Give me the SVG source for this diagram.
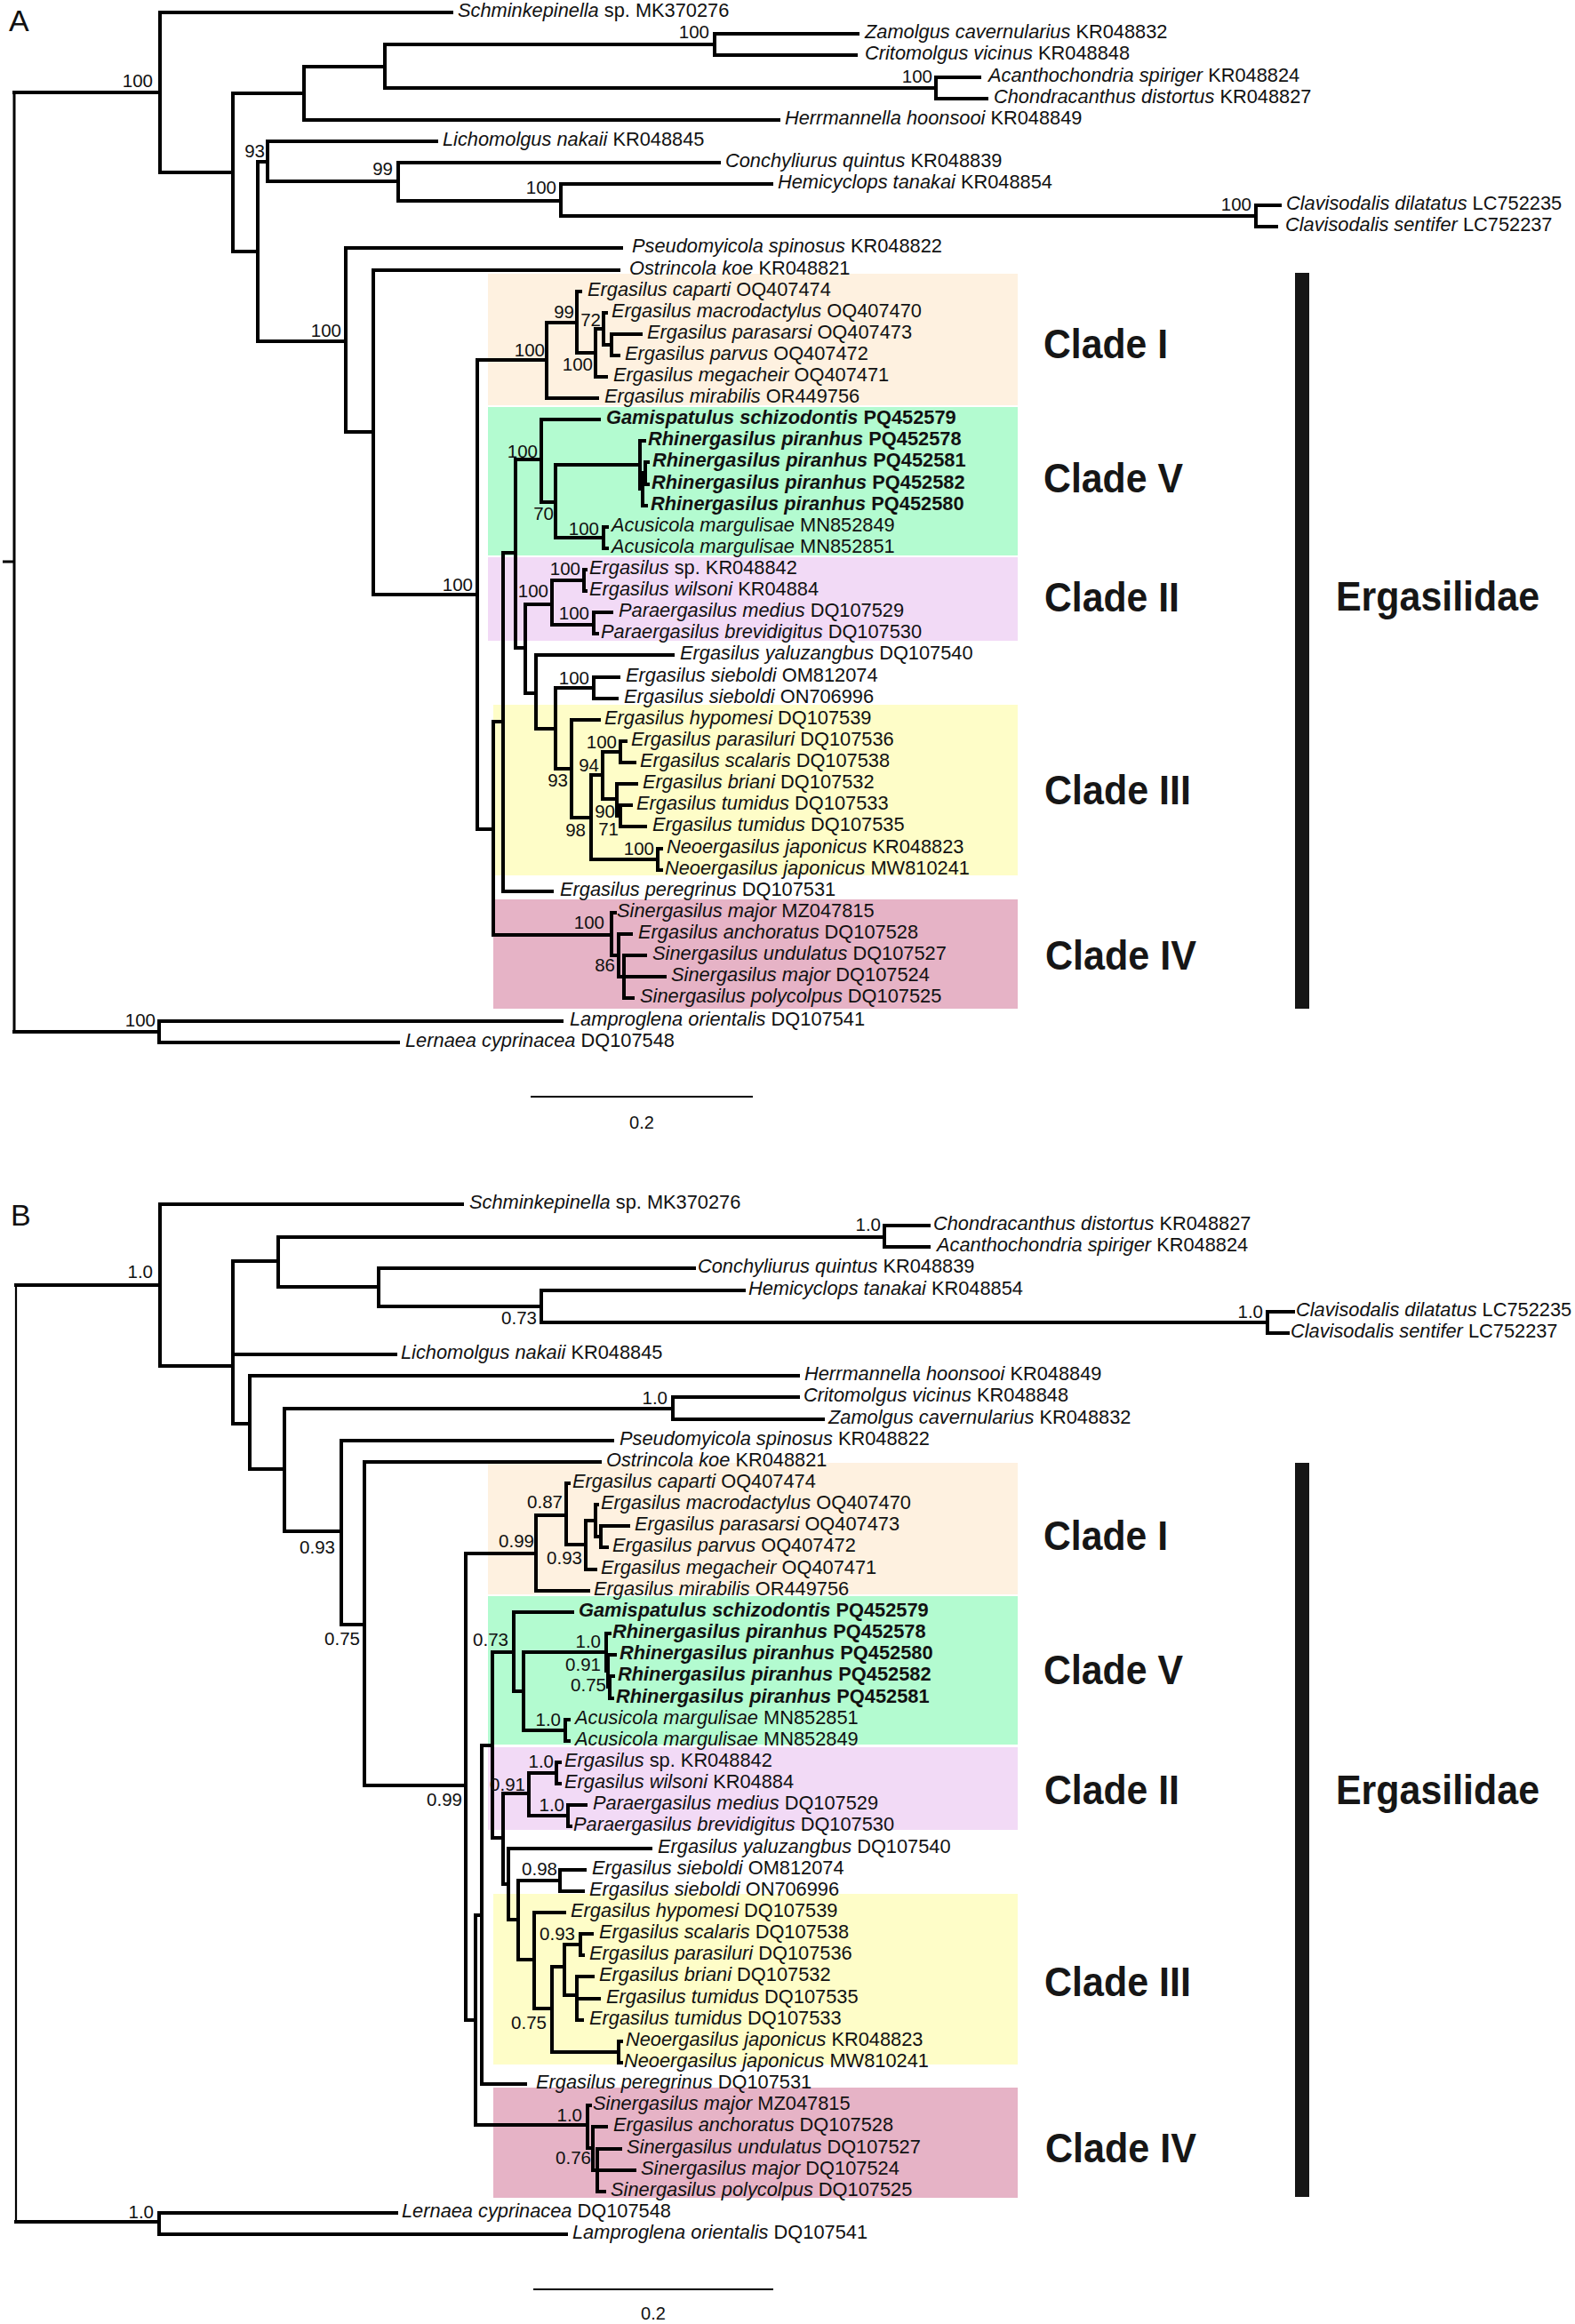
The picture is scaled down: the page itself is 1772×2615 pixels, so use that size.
<svg xmlns="http://www.w3.org/2000/svg" width="1772" height="2615" viewBox="0 0 1772 2615">
<style>
.b{fill:none;stroke:#000;stroke-width:4;stroke-linecap:square}
.r{fill:none;stroke:#000;stroke-width:3}
.r2{fill:none;stroke:#000;stroke-width:2.2}
.t{font-family:"Liberation Sans",Arial,sans-serif;font-size:21.8px;fill:#111}
.i{font-style:italic}
.bd{font-weight:bold}
.s{font-family:"Liberation Sans",Arial,sans-serif;font-size:20.5px;fill:#111;text-anchor:end}
.c{font-family:"Liberation Sans",Arial,sans-serif;font-size:47px;font-weight:bold;fill:#161616}
.p{font-family:"Liberation Sans",Arial,sans-serif;font-size:34px;fill:#111}
.sc{font-family:"Liberation Sans",Arial,sans-serif;font-size:20px;fill:#111;text-anchor:middle}
.k1{fill:#FEF1E0}.k5{fill:#B3FBD0}.k2{fill:#F2DAF6}.k3{fill:#FEFDC8}.k4{fill:#E6B3C6}
</style>
<rect width="1772" height="2615" fill="#fff"/>
<g id="clade-boxes">
<rect class="k1" x="549" y="308" width="596" height="148"/>
<rect class="k5" x="549" y="458" width="596" height="167"/>
<rect class="k2" x="549" y="627" width="596" height="94"/>
<rect class="k3" x="555" y="793" width="590" height="192"/>
<rect class="k4" x="555" y="1012" width="590" height="123"/>
<rect class="k1" x="549" y="1646" width="596" height="148"/>
<rect class="k5" x="549" y="1796" width="596" height="167"/>
<rect class="k2" x="549" y="1966" width="596" height="93"/>
<rect class="k3" x="555" y="2131" width="590" height="192"/>
<rect class="k4" x="555" y="2349" width="590" height="124"/>
</g>
<g id="connectors">
<path class="r" d="M3 632H16 M16 104V1161"/>
<path class="b" d="M16 104H180 M16 1161H179
M179 1149V1173 M179 1149H632 M179 1173H448
M180 14V194 M180 14H508 M180 194H262
M262 105V283 M262 105H342 M262 283H290
M342 75V135 M342 75H433 M342 135H876
M433 50V99 M433 50H804 M433 99H1053
M804 38V62 M804 38H965 M804 62H963
M1053 87V111 M1053 87H1102 M1053 111H1110
M290 182V384 M290 182H301 M290 384H389
M301 159V204 M301 159H491 M301 204H448
M448 183V226 M448 183H809 M448 226H631
M631 207V243 M631 207H868 M631 243H1413
M1413 231V255 M1413 231H1440 M1413 255H1436
M389 279V486 M389 279H699 M389 486H420
M420 304V669 M420 304H696 M420 669H537
M537 405V933 M537 405H615 M537 933H555
M615 363V448 M615 363H649 M615 448H672
M649 328V397 M649 328H653 M649 397H670
M670 370V424 M670 370H679 M670 424H682
M679 352V388 M679 352H682 M679 388H688
M688 376V400 M688 376H721 M688 400H696
M555 812V1052 M555 812H566 M555 1052H688
M566 622V1003 M566 622H580 M566 1003H621
M580 517V729 M580 517H609 M580 729H591
M609 472V565 M609 472H674 M609 565H625
M625 523V605 M625 523H720 M625 605H679
M720 496V550 M720 496H725 M720 550H723
M723 532V569 M723 532H726 M723 569H727
M726 520V545 M726 520H729 M726 545H729
M679 593V617 M679 593H683 M679 617H683
M591 680V780 M591 680H621 M591 780H603
M621 653V703 M621 653H657 M621 703H668
M657 641V665 M657 641H659 M657 665H659
M668 689V713 M668 689H688 M668 713H672
M603 737V820 M603 737H757 M603 820H625
M625 774V865 M625 774H668 M625 865H643
M668 762V786 M668 762H696 M668 786H694
M643 810V920 M643 810H674 M643 920H665
M665 872V967 M665 872H678 M665 967H740
M678 846V899 M678 846H698 M678 899H694
M698 834V858 M698 834H704 M698 858H714
M694 882V918 M694 882H716 M694 918H698
M698 906V930 M698 906H710 M698 930H726
M740 955V979 M740 955H744 M740 979H744
M688 1027V1075 M688 1027H692 M688 1075H696
M696 1051V1099 M696 1051H710 M696 1099H702
M702 1075V1123 M702 1075H726 M702 1099H748 M702 1123H712"/>
<path class="r2" d="M18 1446V2500"/>
<path class="b" d="M18 1446H180 M18 2500H179
M179 2490V2514 M179 2490H446 M179 2514H637
M180 1355V1537 M180 1355H520 M180 1537H262
M262 1419V1602 M262 1419H313 M262 1524H445 M262 1602H281
M313 1392V1448 M313 1392H995 M313 1448H426
M995 1379V1403 M995 1379H1045 M995 1403H1045
M426 1427V1470 M426 1427H781 M426 1470H609
M609 1452V1488 M609 1452H837 M609 1488H1426
M1426 1476V1500 M1426 1476H1455 M1426 1500H1449
M281 1548V1653 M281 1548H898 M281 1653H320
M320 1585V1723 M320 1585H757 M320 1723H384
M757 1572V1597 M757 1572H898 M757 1597H926
M384 1621V1828 M384 1621H689 M384 1828H410
M410 1645V2009 M410 1645H675 M410 2009H524
M524 1748V2273 M524 1748H603 M524 2273H535
M603 1705V1790 M603 1705H637 M603 1790H662
M637 1669V1738 M637 1669H640 M637 1738H659
M659 1711V1766 M659 1711H670 M659 1766H670
M670 1693V1729 M670 1693H672 M670 1729H676
M676 1717V1741 M676 1717H707 M676 1741H683
M535 2155V2391 M535 2155H542 M535 2391H661
M542 1964V2345 M542 1964H554 M542 2345H591
M554 1859V2068 M554 1859H578 M554 2068H566
M578 1814V1903 M578 1814H644 M578 1903H589
M589 1859V1947 M589 1859H682 M589 1947H636
M682 1838V1880 M682 1838H686 M682 1880H684
M684 1862V1898 M684 1862H692 M684 1898H686
M686 1886V1911 M686 1886H690 M686 1911H689
M636 1935V1959 M636 1935H640 M636 1959H640
M566 2018V2120 M566 2018H595 M566 2120H572
M595 1995V2043 M595 1995H626 M595 2043H639
M626 1983V2007 M626 1983H630 M626 2007H630
M639 2031V2055 M639 2031H659 M639 2055H642
M572 2080V2160 M572 2080H732 M572 2160H583
M583 2116V2205 M583 2116H630 M583 2205H601
M630 2104V2128 M630 2104H658 M630 2128H656
M601 2152V2260 M601 2152H635 M601 2260H621
M621 2213V2309 M621 2213H635 M621 2309H696
M635 2188V2245 M635 2188H653 M635 2245H649
M653 2176V2200 M653 2176H666 M653 2200H656
M649 2224V2273 M649 2224H667 M649 2249H674 M649 2273H655
M696 2297V2321 M696 2297H699 M696 2321H699
M661 2369V2417 M661 2369H664 M661 2417H667
M667 2393V2442 M667 2393H682 M667 2442H672
M672 2418V2466 M672 2418H698 M672 2442H714 M672 2466H680"/>
<path class="r2" d="M597 1234H847 M600 2576H870"/>
</g>
<g id="panel-labels">
<text class="p" x="10" y="35">A</text>
<text class="p" x="12" y="1379">B</text>
</g>
<g id="tips-A">
<g id="a0"><text class="t" x="515" y="19"><tspan class="i">Schminkepinella</tspan> sp. MK370276</text></g>
<g id="a1"><text class="t" x="973" y="43"><tspan class="i">Zamolgus cavernularius</tspan> KR048832</text></g>
<g id="a2"><text class="t" x="973" y="67"><tspan class="i">Critomolgus vicinus</tspan> KR048848</text></g>
<g id="a3"><text class="t" x="1112" y="92"><tspan class="i">Acanthochondria spiriger</tspan> KR048824</text></g>
<g id="a4"><text class="t" x="1118" y="116"><tspan class="i">Chondracanthus distortus</tspan> KR048827</text></g>
<g id="a5"><text class="t" x="883" y="140"><tspan class="i">Herrmannella hoonsooi</tspan> KR048849</text></g>
<g id="a6"><text class="t" x="498" y="164"><tspan class="i">Lichomolgus nakaii</tspan> KR048845</text></g>
<g id="a7"><text class="t" x="816" y="188"><tspan class="i">Conchyliurus quintus</tspan> KR048839</text></g>
<g id="a8"><text class="t" x="875" y="212"><tspan class="i">Hemicyclops tanakai</tspan> KR048854</text></g>
<g id="a9"><text class="t" x="1447" y="236"><tspan class="i">Clavisodalis dilatatus</tspan> LC752235</text></g>
<g id="a10"><text class="t" x="1446" y="260"><tspan class="i">Clavisodalis sentifer</tspan> LC752237</text></g>
<g id="a11"><text class="t" x="711" y="284"><tspan class="i">Pseudomyicola spinosus</tspan> KR048822</text></g>
<g id="a12"><text class="t" x="708" y="309"><tspan class="i">Ostrincola koe</tspan> KR048821</text></g>
<g id="a13"><text class="t" x="661" y="333"><tspan class="i">Ergasilus caparti</tspan> OQ407474</text></g>
<g id="a14"><text class="t" x="688" y="357"><tspan class="i">Ergasilus macrodactylus</tspan> OQ407470</text></g>
<g id="a15"><text class="t" x="728" y="381"><tspan class="i">Ergasilus parasarsi</tspan> OQ407473</text></g>
<g id="a16"><text class="t" x="703" y="405"><tspan class="i">Ergasilus parvus</tspan> OQ407472</text></g>
<g id="a17"><text class="t" x="690" y="429"><tspan class="i">Ergasilus megacheir</tspan> OQ407471</text></g>
<g id="a18"><text class="t" x="680" y="453"><tspan class="i">Ergasilus mirabilis</tspan> OR449756</text></g>
<g id="a19"><text class="t bd" x="682" y="477"><tspan class="i">Gamispatulus schizodontis</tspan> PQ452579</text></g>
<g id="a20"><text class="t bd" x="729" y="501"><tspan class="i">Rhinergasilus piranhus</tspan> PQ452578</text></g>
<g id="a21"><text class="t bd" x="734" y="525"><tspan class="i">Rhinergasilus piranhus</tspan> PQ452581</text></g>
<g id="a22"><text class="t bd" x="733" y="550"><tspan class="i">Rhinergasilus piranhus</tspan> PQ452582</text></g>
<g id="a23"><text class="t bd" x="732" y="574"><tspan class="i">Rhinergasilus piranhus</tspan> PQ452580</text></g>
<g id="a24"><text class="t" x="688" y="598"><tspan class="i">Acusicola margulisae</tspan> MN852849</text></g>
<g id="a25"><text class="t" x="688" y="622"><tspan class="i">Acusicola margulisae</tspan> MN852851</text></g>
<g id="a26"><text class="t" x="663" y="646"><tspan class="i">Ergasilus</tspan> sp. KR048842</text></g>
<g id="a27"><text class="t" x="663" y="670"><tspan class="i">Ergasilus wilsoni</tspan> KR04884</text></g>
<g id="a28"><text class="t" x="696" y="694"><tspan class="i">Paraergasilus medius</tspan> DQ107529</text></g>
<g id="a29"><text class="t" x="676" y="718"><tspan class="i">Paraergasilus brevidigitus</tspan> DQ107530</text></g>
<g id="a30"><text class="t" x="765" y="742"><tspan class="i">Ergasilus yaluzangbus</tspan> DQ107540</text></g>
<g id="a31"><text class="t" x="704" y="767"><tspan class="i">Ergasilus sieboldi</tspan> OM812074</text></g>
<g id="a32"><text class="t" x="702" y="791"><tspan class="i">Ergasilus sieboldi</tspan> ON706996</text></g>
<g id="a33"><text class="t" x="680" y="815"><tspan class="i">Ergasilus hypomesi</tspan> DQ107539</text></g>
<g id="a34"><text class="t" x="710" y="839"><tspan class="i">Ergasilus parasiluri</tspan> DQ107536</text></g>
<g id="a35"><text class="t" x="720" y="863"><tspan class="i">Ergasilus scalaris</tspan> DQ107538</text></g>
<g id="a36"><text class="t" x="723" y="887"><tspan class="i">Ergasilus briani</tspan> DQ107532</text></g>
<g id="a37"><text class="t" x="716" y="911"><tspan class="i">Ergasilus tumidus</tspan> DQ107533</text></g>
<g id="a38"><text class="t" x="734" y="935"><tspan class="i">Ergasilus tumidus</tspan> DQ107535</text></g>
<g id="a39"><text class="t" x="750" y="960"><tspan class="i">Neoergasilus japonicus</tspan> KR048823</text></g>
<g id="a40"><text class="t" x="748" y="984"><tspan class="i">Neoergasilus japonicus</tspan> MW810241</text></g>
<g id="a41"><text class="t" x="630" y="1008"><tspan class="i">Ergasilus peregrinus</tspan> DQ107531</text></g>
<g id="a42"><text class="t" x="694" y="1032"><tspan class="i">Sinergasilus major</tspan> MZ047815</text></g>
<g id="a43"><text class="t" x="718" y="1056"><tspan class="i">Ergasilus anchoratus</tspan> DQ107528</text></g>
<g id="a44"><text class="t" x="734" y="1080"><tspan class="i">Sinergasilus undulatus</tspan> DQ107527</text></g>
<g id="a45"><text class="t" x="755" y="1104"><tspan class="i">Sinergasilus major</tspan> DQ107524</text></g>
<g id="a46"><text class="t" x="720" y="1128"><tspan class="i">Sinergasilus polycolpus</tspan> DQ107525</text></g>
<g id="a47"><text class="t" x="641" y="1154"><tspan class="i">Lamproglena orientalis</tspan> DQ107541</text></g>
<g id="a48"><text class="t" x="456" y="1178"><tspan class="i">Lernaea cyprinacea</tspan> DQ107548</text></g>
</g>
<g id="support-A">
<text class="s" x="172" y="98">100</text>
<text class="s" x="798" y="43">100</text>
<text class="s" x="1049" y="93">100</text>
<text class="s" x="298" y="177">93</text>
<text class="s" x="442" y="197">99</text>
<text class="s" x="626" y="218">100</text>
<text class="s" x="1408" y="237">100</text>
<text class="s" x="384" y="379">100</text>
<text class="s" x="532" y="665">100</text>
<text class="s" x="613" y="401">100</text>
<text class="s" x="646" y="358">99</text>
<text class="s" x="676" y="367">72</text>
<text class="s" x="667" y="417">100</text>
<text class="s" x="605" y="515">100</text>
<text class="s" x="623" y="585">70</text>
<text class="s" x="674" y="602">100</text>
<text class="s" x="653" y="647">100</text>
<text class="s" x="617" y="672">100</text>
<text class="s" x="663" y="697">100</text>
<text class="s" x="663" y="770">100</text>
<text class="s" x="639" y="885">93</text>
<text class="s" x="674" y="868">94</text>
<text class="s" x="694" y="842">100</text>
<text class="s" x="692" y="920">90</text>
<text class="s" x="696" y="940">71</text>
<text class="s" x="659" y="941">98</text>
<text class="s" x="736" y="962">100</text>
<text class="s" x="680" y="1045">100</text>
<text class="s" x="692" y="1093">86</text>
<text class="s" x="175" y="1155">100</text>
</g>
<g id="clades-A">
<text class="c" x="1174" y="403" textLength="140" lengthAdjust="spacingAndGlyphs">Clade I</text>
<text class="c" x="1174" y="554" textLength="157" lengthAdjust="spacingAndGlyphs">Clade V</text>
<text class="c" x="1175" y="688" textLength="152" lengthAdjust="spacingAndGlyphs">Clade II</text>
<text class="c" x="1175" y="905" textLength="165" lengthAdjust="spacingAndGlyphs">Clade III</text>
<text class="c" x="1176" y="1091" textLength="170" lengthAdjust="spacingAndGlyphs">Clade IV</text>
<rect x="1457" y="307" width="16" height="828" fill="#161616"/>
<text class="c" x="1503" y="687" textLength="229" lengthAdjust="spacingAndGlyphs">Ergasilidae</text>
<text class="sc" x="722" y="1270">0.2</text>
</g>
<g id="tips-B">
<g id="b0"><text class="t" x="528" y="1360"><tspan class="i">Schminkepinella</tspan> sp. MK370276</text></g>
<g id="b1"><text class="t" x="1050" y="1384"><tspan class="i">Chondracanthus distortus</tspan> KR048827</text></g>
<g id="b2"><text class="t" x="1054" y="1408"><tspan class="i">Acanthochondria spiriger</tspan> KR048824</text></g>
<g id="b3"><text class="t" x="785" y="1432"><tspan class="i">Conchyliurus quintus</tspan> KR048839</text></g>
<g id="b4"><text class="t" x="842" y="1457"><tspan class="i">Hemicyclops tanakai</tspan> KR048854</text></g>
<g id="b5"><text class="t" x="1458" y="1481"><tspan class="i">Clavisodalis dilatatus</tspan> LC752235</text></g>
<g id="b6"><text class="t" x="1452" y="1505"><tspan class="i">Clavisodalis sentifer</tspan> LC752237</text></g>
<g id="b7"><text class="t" x="451" y="1529"><tspan class="i">Lichomolgus nakaii</tspan> KR048845</text></g>
<g id="b8"><text class="t" x="905" y="1553"><tspan class="i">Herrmannella hoonsooi</tspan> KR048849</text></g>
<g id="b9"><text class="t" x="904" y="1577"><tspan class="i">Critomolgus vicinus</tspan> KR048848</text></g>
<g id="b10"><text class="t" x="932" y="1602"><tspan class="i">Zamolgus cavernularius</tspan> KR048832</text></g>
<g id="b11"><text class="t" x="697" y="1626"><tspan class="i">Pseudomyicola spinosus</tspan> KR048822</text></g>
<g id="b12"><text class="t" x="682" y="1650"><tspan class="i">Ostrincola koe</tspan> KR048821</text></g>
<g id="b13"><text class="t" x="644" y="1674"><tspan class="i">Ergasilus caparti</tspan> OQ407474</text></g>
<g id="b14"><text class="t" x="676" y="1698"><tspan class="i">Ergasilus macrodactylus</tspan> OQ407470</text></g>
<g id="b15"><text class="t" x="714" y="1722"><tspan class="i">Ergasilus parasarsi</tspan> OQ407473</text></g>
<g id="b16"><text class="t" x="689" y="1746"><tspan class="i">Ergasilus parvus</tspan> OQ407472</text></g>
<g id="b17"><text class="t" x="676" y="1771"><tspan class="i">Ergasilus megacheir</tspan> OQ407471</text></g>
<g id="b18"><text class="t" x="668" y="1795"><tspan class="i">Ergasilus mirabilis</tspan> OR449756</text></g>
<g id="b19"><text class="t bd" x="651" y="1819"><tspan class="i">Gamispatulus schizodontis</tspan> PQ452579</text></g>
<g id="b20"><text class="t bd" x="689" y="1843"><tspan class="i">Rhinergasilus piranhus</tspan> PQ452578</text></g>
<g id="b21"><text class="t bd" x="697" y="1867"><tspan class="i">Rhinergasilus piranhus</tspan> PQ452580</text></g>
<g id="b22"><text class="t bd" x="695" y="1891"><tspan class="i">Rhinergasilus piranhus</tspan> PQ452582</text></g>
<g id="b23"><text class="t bd" x="693" y="1916"><tspan class="i">Rhinergasilus piranhus</tspan> PQ452581</text></g>
<g id="b24"><text class="t" x="647" y="1940"><tspan class="i">Acusicola margulisae</tspan> MN852851</text></g>
<g id="b25"><text class="t" x="647" y="1964"><tspan class="i">Acusicola margulisae</tspan> MN852849</text></g>
<g id="b26"><text class="t" x="635" y="1988"><tspan class="i">Ergasilus</tspan> sp. KR048842</text></g>
<g id="b27"><text class="t" x="635" y="2012"><tspan class="i">Ergasilus wilsoni</tspan> KR04884</text></g>
<g id="b28"><text class="t" x="667" y="2036"><tspan class="i">Paraergasilus medius</tspan> DQ107529</text></g>
<g id="b29"><text class="t" x="645" y="2060"><tspan class="i">Paraergasilus brevidigitus</tspan> DQ107530</text></g>
<g id="b30"><text class="t" x="740" y="2085"><tspan class="i">Ergasilus yaluzangbus</tspan> DQ107540</text></g>
<g id="b31"><text class="t" x="666" y="2109"><tspan class="i">Ergasilus sieboldi</tspan> OM812074</text></g>
<g id="b32"><text class="t" x="663" y="2133"><tspan class="i">Ergasilus sieboldi</tspan> ON706996</text></g>
<g id="b33"><text class="t" x="642" y="2157"><tspan class="i">Ergasilus hypomesi</tspan> DQ107539</text></g>
<g id="b34"><text class="t" x="674" y="2181"><tspan class="i">Ergasilus scalaris</tspan> DQ107538</text></g>
<g id="b35"><text class="t" x="663" y="2205"><tspan class="i">Ergasilus parasiluri</tspan> DQ107536</text></g>
<g id="b36"><text class="t" x="674" y="2229"><tspan class="i">Ergasilus briani</tspan> DQ107532</text></g>
<g id="b37"><text class="t" x="682" y="2254"><tspan class="i">Ergasilus tumidus</tspan> DQ107535</text></g>
<g id="b38"><text class="t" x="663" y="2278"><tspan class="i">Ergasilus tumidus</tspan> DQ107533</text></g>
<g id="b39"><text class="t" x="704" y="2302"><tspan class="i">Neoergasilus japonicus</tspan> KR048823</text></g>
<g id="b40"><text class="t" x="702" y="2326"><tspan class="i">Neoergasilus japonicus</tspan> MW810241</text></g>
<g id="b41"><text class="t" x="603" y="2350"><tspan class="i">Ergasilus peregrinus</tspan> DQ107531</text></g>
<g id="b42"><text class="t" x="667" y="2374"><tspan class="i">Sinergasilus major</tspan> MZ047815</text></g>
<g id="b43"><text class="t" x="690" y="2398"><tspan class="i">Ergasilus anchoratus</tspan> DQ107528</text></g>
<g id="b44"><text class="t" x="705" y="2423"><tspan class="i">Sinergasilus undulatus</tspan> DQ107527</text></g>
<g id="b45"><text class="t" x="721" y="2447"><tspan class="i">Sinergasilus major</tspan> DQ107524</text></g>
<g id="b46"><text class="t" x="687" y="2471"><tspan class="i">Sinergasilus polycolpus</tspan> DQ107525</text></g>
<g id="b47"><text class="t" x="452" y="2495"><tspan class="i">Lernaea cyprinacea</tspan> DQ107548</text></g>
<g id="b48"><text class="t" x="644" y="2519"><tspan class="i">Lamproglena orientalis</tspan> DQ107541</text></g>
</g>
<g id="support-B">
<text class="s" x="172" y="1438">1.0</text>
<text class="s" x="991" y="1385">1.0</text>
<text class="s" x="604" y="1490">0.73</text>
<text class="s" x="1421" y="1483">1.0</text>
<text class="s" x="751" y="1580">1.0</text>
<text class="s" x="377" y="1748">0.93</text>
<text class="s" x="405" y="1851">0.75</text>
<text class="s" x="520" y="2032">0.99</text>
<text class="s" x="572" y="1852">0.73</text>
<text class="s" x="601" y="1741">0.99</text>
<text class="s" x="633" y="1697">0.87</text>
<text class="s" x="655" y="1760">0.93</text>
<text class="s" x="676" y="1854">1.0</text>
<text class="s" x="676" y="1880">0.91</text>
<text class="s" x="682" y="1903">0.75</text>
<text class="s" x="631" y="1942">1.0</text>
<text class="s" x="623" y="1989">1.0</text>
<text class="s" x="591" y="2015">0.91</text>
<text class="s" x="635" y="2038">1.0</text>
<text class="s" x="627" y="2110">0.98</text>
<text class="s" x="647" y="2183">0.93</text>
<text class="s" x="615" y="2283">0.75</text>
<text class="s" x="655" y="2387">1.0</text>
<text class="s" x="665" y="2435">0.76</text>
<text class="s" x="173" y="2496">1.0</text>
</g>
<g id="clades-B">
<text class="c" x="1174" y="1744" textLength="140" lengthAdjust="spacingAndGlyphs">Clade I</text>
<text class="c" x="1174" y="1895" textLength="157" lengthAdjust="spacingAndGlyphs">Clade V</text>
<text class="c" x="1175" y="2030" textLength="152" lengthAdjust="spacingAndGlyphs">Clade II</text>
<text class="c" x="1175" y="2246" textLength="165" lengthAdjust="spacingAndGlyphs">Clade III</text>
<text class="c" x="1176" y="2433" textLength="170" lengthAdjust="spacingAndGlyphs">Clade IV</text>
<rect x="1457" y="1646" width="16" height="826" fill="#161616"/>
<text class="c" x="1503" y="2030" textLength="229" lengthAdjust="spacingAndGlyphs">Ergasilidae</text>
<text class="sc" x="735" y="2610">0.2</text>
</g>
</svg>
